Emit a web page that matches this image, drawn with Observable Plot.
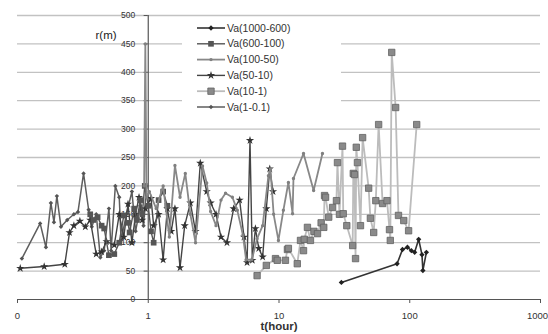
<!DOCTYPE html>
<html>
<head>
<meta charset="utf-8">
<script src="https://cdn.jsdelivr.net/npm/d3@7"></script>
<script src="https://cdn.jsdelivr.net/npm/@observablehq/plot@0.6"></script>
<style>
  html, body { margin: 0; padding: 0; background: white; }
  #wrap { position: relative; width: 548px; height: 334px; font-family: 'Liberation Sans', Arial, sans-serif; }
  #legend { position: absolute; left: 0; top: 0; pointer-events: none; }
</style>
</head>
<body>
<div id="wrap"></div>
<script>
// ---- tick labels ----
const xTicks = [0.1, 1, 10, 100, 1000];
const xTickLabels = ["0", "1", "10", "100", "1000"];
const yTicks = [0, 50, 100, 150, 200, 250, 300, 350, 400, 450, 500];
const seriesNames = ["Va(1000-600)", "Va(600-100)", "Va(100-50)", "Va(50-10)", "Va(10-1)", "Va(1-0.1)"];

// ---- series values: [t (hour), r (m)] ----
const va1000_600 = [[30,30],[80,63],[88,88],[96,92],[103,86],[109,83],[117,106],[124,79],[126,51],[134,83]];

const va600_100 = [[0.36,150],[0.38,140],[0.41,145],[0.44,130],[0.46,125],[0.5,78],[0.55,80],[0.6,100],
  [0.65,148],[0.7,135],[0.72,118],[0.78,160],[0.82,140],[0.87,175],[0.9,150],[0.94,200],[1.0,165],
  [1.05,120],[1.1,100],[1.2,175],[1.3,190],[1.4,165]];

const va100_50 = [[0.93,200],[0.95,450],[0.97,180],[1.02,190],[1.15,160],[1.3,200],[1.45,110],[1.6,236],
  [1.75,180],[1.92,222],[2.1,150],[2.3,100],[2.6,235],[2.8,205],[3.0,155],[3.3,130],[3.6,175],[3.9,187],
  [4.4,180],[4.8,157],[5.3,113],[5.6,70],[6.2,70],[6.8,107],[7.5,130],[8.3,218],[8.6,230],[9.1,150],
  [9.9,104],[10.8,157],[11.8,206],[12.7,151],[12.9,213],[15.4,257],[18.4,192],[21.5,257]];

const va50_10 = [[0.105,55],[0.16,58],[0.23,62],[0.25,118],[0.27,130],[0.3,138],[0.33,128],[0.36,140],
  [0.4,80],[0.44,84],[0.48,102],[0.55,96],[0.6,150],[0.65,110],[0.7,168],[0.75,100],[0.8,150],[0.85,180],
  [0.9,140],[0.95,160],[1.05,178],[1.1,130],[1.2,150],[1.3,70],[1.4,160],[1.5,120],[1.6,160],[1.75,56],
  [1.9,130],[2.1,170],[2.3,120],[2.5,240],[2.8,190],[3.0,170],[3.3,150],[3.6,110],[4.0,100],[4.5,160],
  [5.0,175],[5.4,110],[5.7,65],[6.0,280],[6.25,69],[6.6,125],[7.0,90],[7.5,75],[8.0,160],[8.5,230],[9.0,190]];

const va10_1 = [[6.8,42],[8.0,60],[9.4,72],[9.7,69],[11.2,69],[11.6,88],[11.8,90],[13.8,63],[14.6,104],
  [15.4,86],[15.6,106],[16.5,127],[17.4,104],[18.5,120],[19.7,116],[21,135],[22,127],[22.3,183],[22.7,180],
  [24,145],[25.7,162],[27.5,174],[28,241],[29,150],[30.6,270],[31,151],[33,130],[36.6,95],[37,222],
  [37.8,220],[38.5,72],[39,268],[39.8,241],[42,130],[43.6,285],[48.5,196],[50,143],[53,118],[55,174],
  [57.8,308],[62,169],[67,174],[70,123],[71,104],[72.8,435],[78,338],[82,148],[90,139],[98,121],[113,308]];

const va1_01 = [[0.108,72],[0.149,134],[0.165,92],[0.18,170],[0.19,136],[0.2,182],[0.215,128],[0.24,140],
  [0.27,150],[0.29,154],[0.32,222],[0.35,158],[0.37,128],[0.40,150],[0.43,74],[0.46,86],[0.5,160],
  [0.52,86],[0.56,200],[0.6,180],[0.62,104],[0.68,150],[0.75,190],[0.8,120],[0.87,165],[0.92,130],[0.97,200]];

const seriesData = [va1000_600, va600_100, va100_50, va50_10, va10_1, va1_01];

// ---- styles ----
const styles = [
  {stroke: "#333", sw: 1.6, symbol: "diamond2", r: 2.4, fill: "#222", mstroke: "none"},
  {stroke: "#555", sw: 1.4, symbol: "square", r: 3.2, fill: "#555", mstroke: "none"},
  {stroke: "#888", sw: 1.8, symbol: "circle", r: 1.7, fill: "#808080", mstroke: "none"},
  {stroke: "#444", sw: 1.4, symbol: "star", r: 2.6, fill: "#333", mstroke: "none"},
  {stroke: "#bcbcbc", sw: 1.8, symbol: "square", r: 3.6, fill: "#8a8a8a", mstroke: "#626262"},
  {stroke: "#5e5e5e", sw: 1.5, symbol: "diamond2", r: 2.0, fill: "#555", mstroke: "none"}
];

const drawOrder = [5, 3, 1, 2, 4, 0];
const seriesMarks = [];
for (const i of drawOrder) {
  const s = styles[i];
  const rows = seriesData[i].map(([t, r]) => ({t, r}));
  seriesMarks.push(Plot.line(rows, {x: "t", y: "r", stroke: s.stroke, strokeWidth: s.sw}));
  seriesMarks.push(Plot.dot(rows, {x: "t", y: "r", symbol: () => s.symbol, r: s.r, fill: s.fill,
    stroke: s.mstroke, strokeWidth: 0.8}));
}

const firstXTicks = xTicks.slice(0, 4);
const lastXTick = xTicks.slice(4);

const plot = Plot.plot({
  width: 548, height: 334,
  marginLeft: 17, marginRight: 8, marginTop: 15, marginBottom: 35,
  style: {fontFamily: "'Liberation Sans', Arial, sans-serif", fontSize: "9px", color: "#333", background: "white"},
  x: {type: "log", domain: [0.1, 1000]},
  y: {domain: [0, 500], axis: null},
  symbol: {type: "identity"},
  marks: [
    Plot.ruleY(yTicks.filter(d => d > 0), {stroke: "#c2c2c2", strokeWidth: 1.3}),
    Plot.ruleY([0], {stroke: "#555", strokeWidth: 1.2}),
    Plot.ruleX([1], {y1: 0, y2: 500, stroke: "#555", strokeWidth: 1.2}),
    Plot.ruleY(yTicks, {x1: 0.93, x2: 1, stroke: "#555"}),
    Plot.text(yTicks, {x: () => 1, y: d => d, text: d => String(d), textAnchor: "end", dx: -13, fill: "#333", fontSize: 8.5}),
    Plot.axisX({ticks: xTicks, tickFormat: () => "", tickSize: 4, label: null, stroke: "#555"}),
    Plot.text(firstXTicks, {x: d => d, y: () => 0, text: d => xTickLabels[xTicks.indexOf(d)], dy: 16, fill: "#333", fontSize: 9.5}),
    Plot.text(lastXTick, {x: d => d, y: () => 0, text: d => xTickLabels[xTicks.indexOf(d)], dy: 16, dx: -3, fill: "#333", fontSize: 9.5}),
    ...seriesMarks,
    Plot.text(["t(hour)"], {frameAnchor: "bottom", dy: 30, fontWeight: "bold", fontSize: 11.5, fill: "#333"}),
    Plot.text(["r(m)"], {frameAnchor: "top-left", dx: 78, dy: 15, fontSize: 11.5, fill: "#222"})
  ]
});
document.getElementById("wrap").appendChild(plot);

// ---- legend overlay ----
const leg = d3.select("#wrap").append("svg").attr("id", "legend").attr("width", 548).attr("height", 334);
leg.append("rect").attr("x", 182).attr("y", 20).attr("width", 159).attr("height", 96).attr("fill", "white");
const symMap = {diamond2: d3.symbolDiamond2, square: d3.symbolSquare, circle: d3.symbolCircle, star: d3.symbolStar};
seriesNames.forEach((name, i) => {
  const s = styles[i];
  const cy = 28 + i * 15.8;
  const g = leg.append("g");
  g.append("line").attr("x1", 197).attr("x2", 225).attr("y1", cy).attr("y2", cy)
    .attr("stroke", s.stroke).attr("stroke-width", s.sw);
  g.append("path").attr("transform", `translate(211,${cy})`)
    .attr("d", d3.symbol(symMap[s.symbol], Math.PI * s.r * s.r)())
    .attr("fill", s.fill).attr("stroke", s.mstroke).attr("stroke-width", 0.8);
  g.append("text").attr("x", 227).attr("y", cy).attr("dy", "0.35em")
    .attr("font-size", 10.5).attr("fill", "#333")
    .attr("font-family", "'Liberation Sans', Arial, sans-serif").text(name);
});
</script>
</body>
</html>
